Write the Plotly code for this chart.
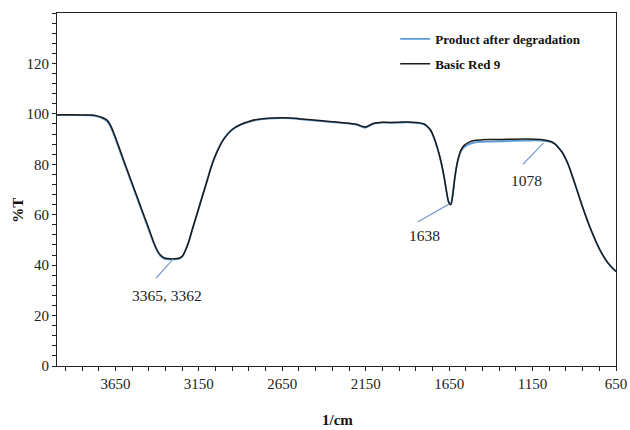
import plotly.graph_objects as go

wavenumber = [4000, 3900, 3800, 3760, 3730, 3700, 3680, 3660, 3600, 3550, 3500, 3450, 3420, 3400,
              3380, 3360, 3340, 3300, 3270, 3250, 3230, 3210, 3190, 3160, 3130, 3100, 3070, 3040,
              3000, 2950, 2900, 2850, 2800, 2750, 2700, 2650, 2600, 2550, 2500, 2450, 2400, 2350,
              2300, 2250, 2200, 2170, 2150, 2130, 2100, 2050, 2000, 1950, 1900, 1850, 1800, 1780,
              1760, 1740, 1720, 1700, 1680, 1665, 1650, 1640, 1630, 1615, 1600, 1580, 1560, 1530,
              1500, 1450, 1400, 1300, 1200, 1100, 1050, 1020, 1000, 970, 940, 910, 880, 850, 800,
              750, 700, 650]

basic_red_9 = [99.6, 99.6, 99.5, 99.2, 98.6, 97.5, 95.5, 92.5, 81.5, 72.5, 63.5, 54.5, 49.0, 46.0,
               44.0, 43.0, 42.6, 42.5, 42.7, 43.5, 46.0, 49.5, 54.0, 60.5, 67.0, 73.5, 80.0, 85.0,
               90.0, 93.8, 95.8, 97.0, 97.8, 98.2, 98.4, 98.5, 98.4, 98.1, 97.8, 97.5, 97.2, 96.9,
               96.6, 96.3, 95.8, 95.0, 94.8, 95.4, 96.3, 96.7, 96.6, 96.7, 96.8, 96.6, 96.0, 95.0,
               93.5, 90.5, 86.5, 81.5, 75.0, 69.0, 64.5, 64.0, 67.0, 75.0, 81.0, 85.5, 87.5, 88.8,
               89.4, 89.7, 89.8, 89.9, 90.0, 89.8, 89.2, 88.3, 87.0, 84.5, 80.5, 75.0, 69.0, 63.0,
               54.0, 46.5, 41.0, 37.5]

product_after_degradation = [99.5, 99.5, 99.4, 99.0, 98.3, 97.0, 95.0, 91.8, 81.0, 72.0, 63.0, 54.0, 48.6, 45.6,
                             43.6, 42.7, 42.3, 42.3, 42.5, 43.3, 45.8, 49.3, 53.8, 60.5, 67.2, 73.8, 80.3, 85.3,
                             90.2, 93.8, 95.6, 96.8, 97.6, 98.0, 98.2, 98.3, 98.2, 97.9, 97.6, 97.3, 97.0, 96.7,
                             96.4, 96.1, 95.6, 94.8, 94.6, 95.2, 96.1, 96.5, 96.4, 96.5, 96.6, 96.4, 95.8, 94.8,
                             93.2, 90.2, 86.2, 81.2, 74.8, 68.8, 64.8, 64.6, 67.6, 75.2, 80.8, 85.0, 86.8, 88.0,
                             88.6, 88.9, 89.0, 89.2, 89.4, 89.4, 89.0, 88.2, 87.0, 84.5, 80.5, 75.0, 69.0, 63.0,
                             54.0, 46.5, 41.0, 37.5]

y_tick_values = [0, 20, 40, 60, 80, 100, 120]
x_tick_values = [3650, 3150, 2650, 2150, 1650, 1150, 650]

peak_labels = ["3365, 3362", "1638", "1078"]
peak_text_x = [3339, 1800, 1185]
peak_text_y = [28.1, 51.9, 73.7]
leader_start_x = [3407, 1839, 1208]
leader_start_y = [34.8, 57.1, 80.0]
leader_end_x = [3304, 1651, 1085]
leader_end_y = [42.4, 64.2, 88.4]

FONT = "Liberation Serif"

fig = go.Figure()
fig.add_trace(go.Scatter(x=wavenumber, y=product_after_degradation, mode="lines",
                         name="<b>Product after degradation</b>", legendgroup="a",
                         line=dict(color="#5B9BD5", width=1.8, shape="spline")))
fig.add_trace(go.Scatter(x=wavenumber, y=basic_red_9, mode="lines",
                         name="<b>Basic Red 9</b>", legendgroup="b",
                         line=dict(color="#1a1a1a", width=1.5, shape="spline")))

for lbl, tx, ty, sx, sy, ex, ey in zip(peak_labels, peak_text_x, peak_text_y,
                                       leader_start_x, leader_start_y, leader_end_x, leader_end_y):
    fig.add_shape(type="line", xref="x", yref="y", x0=sx, y0=sy, x1=ex, y1=ey,
                  line=dict(color="#7B9BD0", width=1.2))
    fig.add_annotation(x=tx, y=ty, xref="x", yref="y", text=lbl, showarrow=False,
                       xanchor="center", yanchor="middle",
                       font=dict(family=FONT, size=15.5, color="#222"))

fig.add_annotation(x=-0.07, y=0.442, xref="paper", yref="paper", text="<b>%T</b>", textangle=-90,
                   xanchor="center", yanchor="middle",
                   showarrow=False, font=dict(family=FONT, size=15, color="#111"))
fig.add_annotation(x=0.501, y=-0.153, xref="paper", yref="paper", text="<b>1/cm</b>",
                   xanchor="center", yanchor="middle",
                   showarrow=False, font=dict(family=FONT, size=15, color="#111"))

fig.update_layout(
    width=630, height=430,
    margin=dict(l=57, r=14, t=13, b=64, autoexpand=False),
    paper_bgcolor="white", plot_bgcolor="white",
    font=dict(family=FONT, size=15, color="#222"),
    showlegend=True,
    legend=dict(x=0.605, y=0.969, xanchor="left", yanchor="top",
                bgcolor="rgba(0,0,0,0)", font=dict(family=FONT, size=13, color="#111"),
                tracegroupgap=5),
    xaxis=dict(range=[4000, 650], tickvals=x_tick_values, showgrid=False, zeroline=False,
               showline=True, linecolor="#222", linewidth=1, mirror=True, automargin=False,
               ticks="outside", ticklen=4, tickcolor="#222",
               minor=dict(dtick=100, tick0=650, ticks="outside", ticklen=4, tickcolor="#222"),
               tickfont=dict(family=FONT, size=15, color="#222")),
    yaxis=dict(range=[0, 140], tickvals=y_tick_values, showgrid=False, zeroline=False,
               showline=True, linecolor="#222", linewidth=1, mirror=True, automargin=False,
               ticks="outside", ticklen=4, tickcolor="#222",
               minor=dict(dtick=4, tick0=0, ticks="outside", ticklen=4, tickcolor="#222"),
               tickfont=dict(family=FONT, size=15, color="#222")),
)

fig.write_html("out.html", config={"displayModeBar": False},
               post_script="document.body.style.margin='0';document.body.style.overflow='hidden';")
